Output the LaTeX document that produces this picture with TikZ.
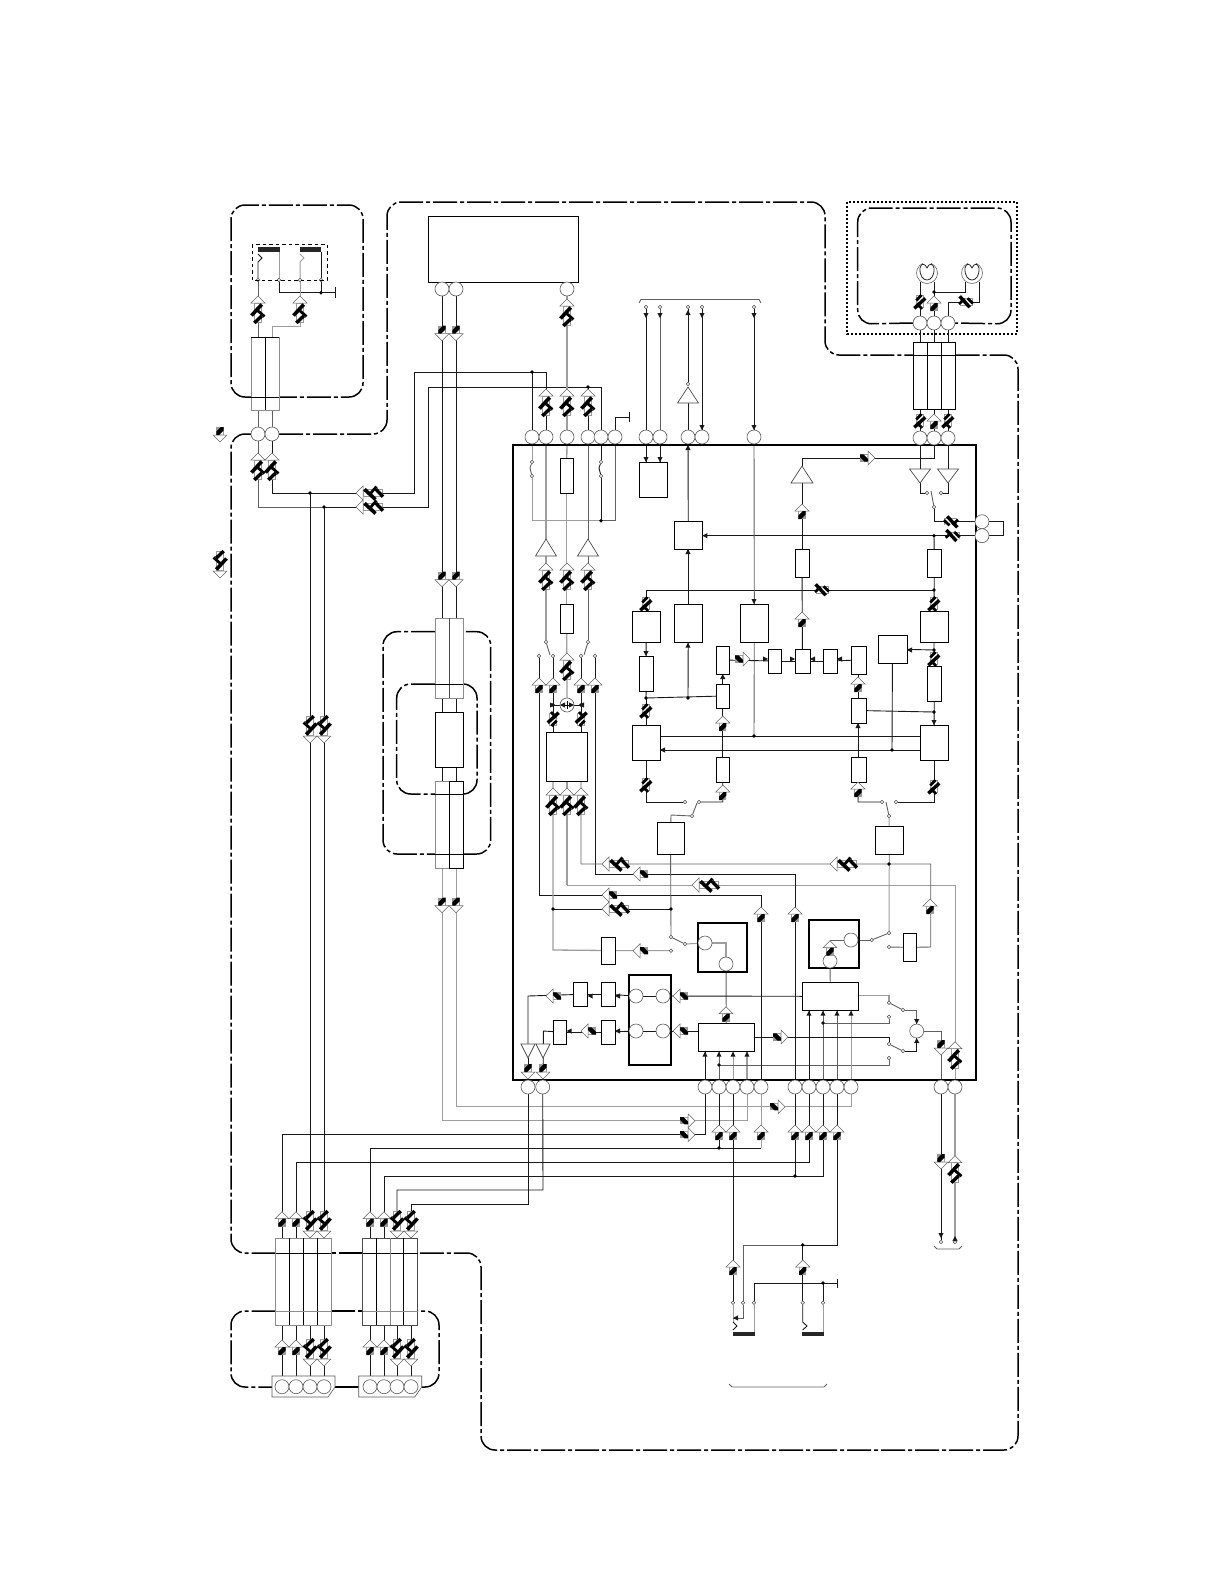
\documentclass[tikz,border=0pt]{standalone}
\usetikzlibrary{backgrounds}
\tikzset{
 ln/.style={black!90,line width=.9pt},
 gl/.style={black!38,line width=1.3pt},
 mg/.style={black!62,line width=.9pt},
 bxs/.style={draw=black,line width=.8pt,fill=white,inner sep=0,outer sep=0,rectangle},
 bks/.style={draw=none,fill=black!85,inner sep=0,outer sep=0,rectangle},
 ths/.style={draw=black,line width=2pt,inner sep=0,outer sep=0,rectangle},
 bub/.style={circle,draw=black!65,line width=.6pt,fill=white,minimum size=14pt,inner sep=0,outer sep=0},
 smc/.style={circle,draw=black!70,line width=.5pt,fill=white,minimum size=3.6pt,inner sep=0,outer sep=0},
 ddot/.style={line width=1.5pt,black,dash pattern=on 24pt off 3pt on 4pt off 3pt,rounded corners=14pt},
 cng/.style={draw=black!45,line width=.8pt},
 cnk/.style={draw=black,line width=.8pt},
 mkone/.pic={
  \draw[black!60,fill=white,line width=.5pt] (0,0)--(-7,7)--(7,7)--cycle;
  \fill[black!40] (-3.7,7) rectangle (3.7,15);
  \fill[white] (-2.9,7.7)--(1,7.7)--(-2.9,11.8)--cycle;
  \fill[black] (-3.7,15)--(-3.7,11.5)--(.8,7)--(3.7,7)--(3.7,10.5)--(-.8,15)--cycle;
 },
 mktwo/.pic={
  \draw[black!60,fill=white,line width=.5pt] (0,0)--(-7,7)--(7,7)--cycle;
  \fill[black!40] (-3.7,7) rectangle (3.7,27);
  \fill[white] (-2.9,7.7) rectangle (2.9,26.3);
  \draw[black,line width=3.6pt] (-6.5,19.5)--(3.7,8.5);
  \draw[black,line width=2.8pt] (-1,14)--(6.5,20.5);
  \draw[black,line width=3.4pt] (-3.7,27)--(3.7,20);
 },
 mkthree/.pic={
  \fill[black!40] (-3.7,1) rectangle (3.7,14);
  \fill[white] (-2.9,1.7) rectangle (2.9,13.3);
  \draw[black,line width=3.4pt] (5.7,.7)--(-5.3,10.7);
  \draw[black,line width=2.6pt] (3,5.7)--(-2,0);
  \draw[black,line width=2.8pt] (3.7,8.5)--(-1.5,14);
 },
 ahd/.pic={\fill[black!90] (0,0)--(-2.6,5)--(2.6,5)--cycle;},
}
\newcommand\bx[5]{\pgfmathsetmacro\cxx{(#2+#4)/2}\pgfmathsetmacro\cyy{(#3+#5)/2}\pgfmathsetmacro\ww{#4-#2}\pgfmathsetmacro\hh{#5-#3}\node[bxs,minimum width=\ww pt,minimum height=\hh pt] (#1) at (\cxx,\cyy) {};}
\newcommand\bk[5]{\pgfmathsetmacro\cxx{(#2+#4)/2}\pgfmathsetmacro\cyy{(#3+#5)/2}\pgfmathsetmacro\ww{#4-#2}\pgfmathsetmacro\hh{#5-#3}\node[bks,minimum width=\ww pt,minimum height=\hh pt] (#1) at (\cxx,\cyy) {};}
\newcommand\tk[5]{\pgfmathsetmacro\cxx{(#2+#4)/2}\pgfmathsetmacro\cyy{(#3+#5)/2}\pgfmathsetmacro\ww{#4-#2}\pgfmathsetmacro\hh{#5-#3}\node[ths,minimum width=\ww pt,minimum height=\hh pt] (#1) at (\cxx,\cyy) {};}
\newcommand\bb[3]{\node[bub] (#1) at (#2,#3) {};}
\newcommand\sm[3]{\node[smc] (#1) at (#2,#3) {};}
\newcommand\dt[3]{\coordinate (#1) at (#2,#3); \fill[black] (#2,#3) circle (1.9pt);}
\newcommand\mka[3]{\pic[rotate=#3] at (#1,#2) {mkone};}
\newcommand\mkb[3]{\pic[rotate=#3] at (#1,#2) {mktwo};}
\newcommand\mkc[3]{\pic[rotate=#3] at (#1,#2) {mkthree};}
\newcommand\ah[3]{\pic[rotate=#3] at (#1,#2) {ahd};}
\newcommand\tru[4]{\draw[black!70,fill=white,line width=.7pt] (#1,#2)--(#1-#4,#3)--(#1+#4,#3)--cycle;}
\begin{document}
\begin{tikzpicture}[x=1pt,y=-1pt]
\useasboundingbox (0,0) rectangle (1225,1585);
% ---------- boxes
\tk{ic}{513}{445}{976}{1080}
\tk{in1}{698}{922.7}{747}{972}
\tk{in2}{628.7}{974.7}{671}{1065}
\tk{in3}{809}{920}{858.7}{968}
\bx{big}{428}{216}{578}{282}
\bx{rA}{560}{458}{573.3}{493}
\bx{rB}{560}{604}{573.3}{633}
\bx{add}{546.3}{732}{587.7}{781}
\bx{dsp}{639}{462}{667.3}{497}
\bx{sel}{674.3}{521}{702.3}{549}
\bx{xa}{674.3}{604}{702.3}{642.7}
\bx{xb}{740}{604}{768.7}{642.7}
\bx{lT}{632}{611}{660}{642}
\bx{lR}{639}{656}{653.7}{691}
\bx{lB}{632}{725}{660}{760}
\bx{pa}{716}{646}{729.6}{674}
\bx{pb}{716}{684}{729.6}{708}
\bx{pc}{716}{757}{729.6}{782}
\bx{qa}{768}{649}{781.7}{673}
\bx{qb}{795}{649}{810}{673}
\bx{qc}{823}{649}{837}{673}
\bx{sa}{851}{646}{866}{674}
\bx{sb}{851}{698}{866}{723}
\bx{sc}{851}{757}{866}{782}
\bx{rT}{920}{611}{948}{642}
\bx{rR}{927}{666}{941.7}{701.5}
\bx{rD}{920}{725}{948}{760}
\bx{ctl}{878}{635}{907}{663}
\bx{aa}{795}{549}{809}{577}
\bx{ab}{927}{549}{941.7}{577}
\bx{swL}{657}{822}{684}{854}
\bx{swR}{875}{826}{903.7}{854}
\bx{gra}{601}{937}{615}{964}
\bx{grb}{903}{933}{916.7}{961.7}
\bx{dra}{573}{982}{587.7}{1006.7}
\bx{drb}{601}{982}{615}{1006.7}
\bx{drc}{553}{1020}{566.7}{1044}
\bx{drd}{601}{1020}{615}{1044}
\bx{ctlL}{698}{1023}{754.7}{1051.7}
\bx{ctlR}{802}{982}{858.7}{1010.7}
\bx{mid}{435}{712}{463.7}{767}
\bk{barA}{258}{247}{280}{252}
\bk{barB}{300}{247}{321}{252}
\bk{barC}{733}{1332}{755}{1336}
\bk{barD}{802}{1332}{824}{1336}
% ---------- bubbles
\bb{c258}{258}{434}\bb{c272}{272}{434}
\bb{t442}{442}{289}\bb{t456}{456}{289}\bb{t567}{567}{289}
\bb{r532}{532}{437}\bb{r546}{546}{437}\bb{r567}{567}{437}\bb{r588}{588}{437}\bb{r601}{601}{437}\bb{r615}{615}{437}
\bb{r646}{646}{437}\bb{r660}{660}{437}\bb{r688}{688}{437}\bb{r702}{702}{437}\bb{r754}{754}{437}
\bb{r920}{920}{438}\bb{r934}{934}{438}\bb{r948}{948}{438}
\bb{u920}{920}{323}\bb{u934}{934}{323}\bb{u948}{948}{323}
\bb{sidea}{982}{521.7}\bb{sideb}{982}{535.7}
\bb{q528}{528}{1087}\bb{q543}{542.7}{1087}
\bb{q705}{705}{1087}\bb{q719}{719}{1087}\bb{q733}{733}{1087}\bb{q747}{747}{1087}\bb{q761}{761}{1087}
\bb{q795}{795}{1087}\bb{q809}{809}{1087}\bb{q823}{823}{1087}\bb{q837}{837}{1087}\bb{q851}{851}{1087}
\bb{q941}{941}{1087}\bb{q955}{955}{1087}
\bb{ia}{705}{943}\bb{ib}{726}{964}
\bb{ka}{636}{996}\bb{kb}{663}{996}\bb{kc}{636}{1031}\bb{kd}{663}{1031}
\bb{ma}{851}{940}\bb{mb}{830}{961}
\node[bub] (plus) at (567,705) {};
\bb{summ}{916.7}{1031}
% ---------- small circles
\sm{za}{258}{280}\sm{zb}{279}{280}\sm{zc}{300}{280}\sm{zd}{321}{280}
\sm{ta}{646}{307}\sm{tb}{660}{307}\sm{tc}{688}{307}\sm{td}{702}{307}\sm{te}{754}{307}
\sm{tf}{688}{384}
\sm{swa}{532}{462}\sm{swb}{532}{476}\sm{swc}{601}{462}\sm{swd}{601}{476}
\sm{sa1}{546}{642}\sm{sa2}{539}{656}\sm{sa3}{553}{656}\sm{sa4}{581}{656}\sm{sa5}{588}{642}\sm{sa6}{595}{656}
\sm{sb1}{685}{802}\sm{sb2}{699}{802}\sm{sb3}{692}{816}
\sm{sc1}{882}{802}\sm{sc2}{896}{802}\sm{sc3}{889}{816}
\sm{sd1}{671}{937}\sm{sd2}{671}{950.7}\sm{sd3}{685}{944}
\sm{se1}{889}{933}\sm{se2}{889}{947}\sm{se3}{871.7}{940}
\sm{sf1}{889}{1002.7}\sm{sf2}{889}{1016.7}\sm{sf3}{903}{1010}
\sm{sg1}{889}{1044}\sm{sg2}{889}{1058}\sm{sg3}{903}{1051}
\sm{sh1}{927}{493}\sm{sh2}{941}{493}\sm{sh3}{934}{507}
\sm{en1}{941}{1242}\sm{en2}{955}{1242}
\sm{w1}{733}{1302.7}\sm{w2}{743}{1302.7}\sm{w3}{754}{1302.7}\sm{w4}{802.7}{1302.7}\sm{w5}{823}{1302.7}
% ---------- connectors, under the nodes
\begin{pgfonlayer}{background}
\fill[white] (0,0) rectangle (1225,1585);
% region outlines
\draw[ddot] (279,434) -- (387,434) -- (387,202) -- (825,202) -- (825,355) -- (913,355);
\draw[ddot] (955.7,355) -- (1018,355) -- (1018,1450) -- (481,1450) -- (481,1253) -- (417.7,1253);
\draw[ddot] (362.7,1253) -- (331.3,1253);
\draw[ddot] (275.7,1253) -- (231,1253) -- (231,434) -- (251,434);
\draw[ddot] (251.3,397) -- (231,397) -- (231,205) -- (363,205) -- (363,397) -- (279.3,397);
\draw[ddot] (913,323) -- (857.7,324) -- (857.7,208) -- (1011,208) -- (1011,324) -- (955,323);
\draw[line width=1.5pt,dash pattern=on 2pt off 2pt] (847,202) rectangle (1017,334);
\draw[ddot] (435,631.7) -- (383,631.7) -- (383,854) -- (435,854);
\draw[ddot] (463.7,854) -- (490.7,854) -- (490.7,631.7) -- (463,631.7);
\draw[ddot] (435,684) -- (396.7,684) -- (396.7,794) -- (435,794);
\draw[ddot] (463.7,794) -- (477,794) -- (477,684) -- (463,684);
\draw[ddot] (275.7,1311) -- (231,1311) -- (231,1387) -- (272,1387);
\draw[ddot] (335,1387) -- (358.7,1387);
\draw[ddot] (421.7,1387) -- (439,1387) -- (439,1311) -- (417.7,1311);
\draw[ddot] (331.3,1311) -- (362.7,1311);
% lamp unit / head A
\draw[ln] (za) -- (258,262) -- (262,258) -- (258,254);
\draw[gl,line width=1pt] (zb) -- (279,252);
\draw[gl,line width=1pt] (zc) -- (300,262) -- (304,258) -- (300,254);
\draw[ln] (zd) -- (321,252);
\coordinate (gndA) at (335,292.7);
\draw[ln] (zb) |- (gndA);
\draw[ln] (335,287) -- (335,298);
\draw[ln] (zd) -- (321,292.7);
\draw[mg] (za) -- (258,337);
\draw[gl,line width=1pt] (zc) -- (300,326) -- (272,326) -- (272,337);
\draw[mg] (258,410) -- (c258);
\draw[mg] (272,410) -- (c272);
\draw[ln] (c272) |- (414,493) -- (414,372) -- (546,372) -- (r546);
\draw[mg] (c258) |- (324,507);
\draw[ln] (324,507) -- (428,507) -- (428,387) -- (601,387) -- (r601);
\draw[ln] (310,493) -- (310,1238);
\draw[ln] (324,507) -- (324,1238);
\draw[ln] (532,372) -- (r532);
\draw[ln] (588,387) -- (r588);
\draw[ln] (t442) -- (442,618);
\draw[ln] (t456) -- (456,618);
\draw[gl] (t567) -- (r567);
\draw[ln] (442,698) -- (442,712);
\draw[ln] (456,698) -- (456,712);
\draw[ln] (442,767) -- (442,781);
\draw[ln] (456,767) -- (456,781);
\draw[gl,line width=1pt] (442,868) -- (442,1120.7) -- (747,1120.7) -- (q747);
\draw[gl,line width=1pt] (456,868) -- (456,1106.7) -- (851,1106.7) -- (q851);
\draw[ln] (r615) -- (615,417) -- (629,417);
\draw[ln] (629,412) -- (629,422);
% top bus
\draw[mg] (639,303) -- (641,299.5) -- (759,299.5) -- (761,303);
\draw[ln] (ta) -- (r646);
\draw[mg] (tb) -- (r660);
\draw[ln] (tc) -- (tf);
\draw[ln] (688,403) -- (r688);
\draw[ln] (td) -- (r702);
\draw[ln] (te) -- (r754);
\draw[ln] (r646) -- (646,462);
\draw[ln] (r660) -- (660,462);
% left switches
\draw[gl,line width=1pt] (r532) -- (swa);
\draw[mg] (swa) -- (530,468) -- (swb);
\draw[gl,line width=1pt] (swb) -- (532,520.7) -- (601,520.7);
\draw[ln] (r601) -- (swc);
\draw[ln] (swc) -- (599,468) -- (swd);
\draw[ln] (swd) -- (601,520.7);
\draw[mg] (r615) -- (615,520.7) -- (601,520.7);
\draw[gl] (r546) -- (sa1);
\draw[gl] (r567) -- (rA);
\draw[gl] (rA) -- (rB);
\draw[mg] (r588) -- (sa5);
\draw[mg] (sa1) -- (550,655);
\draw[mg] (sa5) -- (584,655);
\draw[gl] (rB) -- (plus);
\draw[ln] (sa2) -- (539,895) -- (761,895) -- (q761);
\draw[ln] (sa3) -- (553,732);
\draw[ln] (sa4) -- (581,732);
\draw[ln] (sa6) -- (595,874) -- (795,874) -- (q795);
\draw[ln] (553,705) -- (plus);
\draw[ln] (581,705) -- (plus);
\draw[gl] (553,781) -- (553,950) -- (gra);
\draw[gl] (567,781) -- (567,885);
\draw[gl,line width=1pt] (567,885) -- (955,885) -- (q955);
\draw[mg] (581,781) -- (581,864) -- (930.7,864) -- (930.7,947) -- (grb);
\draw[gl,line width=1pt] (gra) -- (sd2);
\draw[ln] (553,909) -- (671,909);
\draw[mg] (sd1) -- (swL);
\draw[gl,line width=1pt] (sd3) -- (ia);
\draw[mg] (sd1) -- (sd3);
\draw[gl] (ia) -- (726,943) -- (ib);
\draw[mg] (ib) -- (ctlL);
\draw[mg] (swL) -- (671,815) -- (sb3);
\draw[mg] (sb3) -- (697,803);
\draw[ln] (sb1) -- (646,802) -- (lB);
\draw[ln] (sb2) -- (722.7,802) -- (pc);
\draw[ln] (pc) -- (pb);
\draw[ln] (pb) -- (pa);
\draw[ln] (646,590) -- (934,590);
\draw[ln] (646,590) -- (646,611);
\draw[ln] (lT) -- (lR);
\draw[ln] (lR) -- (646,698);
\draw[ln] (646,698) -- (pb);
\draw[ln] (646,698) -- (lB);
\draw[ln] (688,698) -- (xa);
\draw[ln] (xa) -- (sel);
\draw[ln] (sel) -- (r688);
\draw[ln] (934,535.7) -- (sel.east |- 934,535.7);
\draw[ln] (934,535.7) -- (sideb);
\draw[ln] (934,507) -- (934,521.7) -- (sidea);
\draw[ln] (sidea) -- (1003,521.7) -- (1003,535.7) -- (sideb);
\draw[mg] (r754) -- (xb);
\draw[mg] (xb) -- (754,736);
\draw[ln] (lB.east |- 754,736) -- (rD.west |- 754,736);
\draw[ln] (lB.east |- 892,750) -- (rD.west |- 892,750);
\draw[ln] (ctl) -- (892,750);
\draw[ln] (rT) -- (934,650) -- (rR);
\draw[ln] (934,650) -- (ctl);
\draw[ln] (rR) -- (rD);
\draw[ln] (934,712) -- (sb);
\draw[ln] (sb) -- (sa);
\draw[ln] (sb) -- (sc);
\draw[ln] (pa) -- (qa);
\draw[ln] (qa) -- (qb);
\draw[ln] (qc) -- (qb);
\draw[ln] (sa) -- (qc);
\draw[ln] (qb) -- (aa);
\draw[ln] (aa) -- (802,483);
\draw[ln] (802,466) -- (802,458) -- (934,458) -- (r934);
\draw[ln] (ab) -- (rT);
\draw[ln] (934,535.7) -- (ab);
\draw[ln] (r920) -- (920,469);
\draw[ln] (r948) -- (948,469);
\draw[ln] (920,483) -- (920,493) -- (sh1);
\draw[ln] (948,483) -- (948,493) -- (sh2);
\draw[mg] (sh3) -- (931,491);
\draw[ln] (sh3) -- (934,521.7);
\draw[ln] (sc) -- (858,802) -- (sc1);
\draw[ln] (sc2) -- (934,802) -- (rD);
\draw[mg] (sc3) -- (886,802);
\draw[gl,line width=1pt] (sc3) -- (swR);
\draw[gl,line width=1pt] (swR) -- (se1);
\draw[mg] (se3) -- (se1);
\draw[mg] (se3) -- (ma);
\draw[mg] (se2) -- (grb);
\draw[mg] (ma) -- (830,940) -- (mb);
\draw[mg] (mb) -- (ctlR);
% drivers
\draw[ln] (ctlR) -- (kb);
\draw[ln] (kb) -- (ka);
\draw[ln] (ka) -- (drb);
\draw[ln] (drb) -- (dra);
\draw[ln] (dra) -- (528,996) -- (528,1044);
\draw[ln] (ctlL.west |- kd) -- (kd);
\draw[ln] (kd) -- (kc);
\draw[ln] (kc) -- (drd);
\draw[ln] (drd) -- (drc);
\draw[ln] (drc) -- (543.3,1031) -- (543.3,1044);
\draw[ln] (528,1058) -- (q528);
\draw[ln] (543.3,1058) -- (q543);
\draw[ln] (q528) -- (528,1204) -- (411,1204) -- (411,1238);
\draw[ln] (q543) -- (543,1190) -- (397,1190) -- (397,1238);
\draw[ln] (q705) -- (705,1134.7) -- (282,1134.7) -- (282,1238);
\draw[mg] (q719) -- (ctlL.south -| q719);
\draw[ln] (q705) -- (ctlL.south -| q705);
\draw[gl,line width=1pt] (q733) -- (ctlL.south -| q733);
\draw[gl] (q747) -- (ctlL.south -| q747);
\draw[mg] (719,1065) -- (889,1065) -- (sg2);
\draw[ln] (q761) -- (761,895);
\draw[ln] (q795) -- (795,874);
\draw[ln] (q809) -- (ctlR.south -| q809);
\draw[mg] (q823) -- (ctlR.south -| q823);
\draw[mg] (q837) -- (ctlR.south -| q837);
\draw[gl,line width=1pt] (q851) -- (ctlR.south -| q851);
\draw[mg] (823,1023) -- (889,1023) -- (sf2);
\draw[gl] (ctlR.east |- 889,995.7) -- (889,995.7) -- (sf1);
\draw[mg] (sf1) -- (sf3);
\draw[mg] (sf3) -- (916.7,1010) -- (summ);
\draw[ln] (ctlL.east |- 889,1037) -- (889,1037) -- (sg1);
\draw[mg] (sg1) -- (sg3);
\draw[ln] (sg3) -- (916.7,1051) -- (summ);
\draw[mg] (summ) -- (941,1031) -- (q941);
\draw[ln] (q941) -- (en1);
\draw[gl] (q955) -- (en2);
\draw[mg] (934,1246) -- (937,1249) -- (959,1249) -- (962,1246);
% bottom lines
\draw[ln] (q719) -- (719,1148);
\draw[ln] (370,1238) -- (370,1148) -- (761,1148);
\draw[gl,line width=1pt] (761,1148) -- (q761);
\draw[ln] (q733) -- (w1);
\draw[gl,line width=1pt] (w1) -- (733,1322);
\draw[ln] (733,1322) -- (737,1326) -- (733,1330);
\draw[ln] (q809) -- (809,1162) -- (296,1162) -- (296,1238);
\draw[ln] (q823) -- (823,1176) -- (384,1176) -- (384,1238);
\draw[ln] (q795) -- (795,1176);
\draw[ln] (q837) -- (837,1245) -- (802.7,1245);
\draw[mg] (802.7,1245) -- (743,1245) -- (w2);
\draw[mg] (w2) -- (743,1318) -- (733,1318);
\draw[ln] (802.7,1245) -- (w4);
\draw[ln] (w4) -- (802.7,1322) -- (807,1326) -- (802.7,1330);
\draw[ln] (w3) -- (754,1283) -- (837,1283);
\draw[ln] (837,1279) -- (837,1288);
\draw[ln] (823,1283) -- (w5);
\draw[gl,line width=1pt] (w3) -- (754,1332);
\draw[gl,line width=1pt] (w5) -- (823,1332);
\draw[mg] (729,1384) -- (732,1387) -- (824,1387) -- (827,1384);
% lamps
\foreach \xx/\nn in {920/r920,934/r934,948/r948}{\draw[ln] (\xx,409) -- (\nn);}
\foreach \xx/\nn in {920/u920,934/u934,948/u948}{\draw[ln] (\xx,342) -- (\nn);}
\draw[ln] (920,282) -- (u920);
\draw[ln] (934,282) -- (u934);
\draw[ln] (934,292) -- (965.7,292) -- (965.7,282);
\draw[ln] (979,282) -- (979,302) -- (948,302) -- (u948);
% bottom connector stubs
\foreach \xx in {282,296,310,324,370,384,397,411}{\draw[ln] (\xx,1325) -- (\xx,1386);}
\end{pgfonlayer}
% lower connector bubbles, over their stubs
\draw[black!65,line width=.6pt,fill=white] (272,1376)--(335,1376)--(335,1387)--(328,1397)--(272,1397)--cycle;
\draw[black!65,line width=.6pt,fill=white] (358.7,1376)--(421.7,1376)--(421.7,1387)--(414.7,1397)--(358.7,1397)--cycle;
\bb{ja}{282}{1386.7}\bb{jb}{296}{1386.7}\bb{jc}{310}{1386.7}\bb{jd}{324}{1386.7}
\bb{je}{370}{1386.7}\bb{jf}{384}{1386.7}\bb{jg}{397}{1386.7}\bb{jh}{411}{1386.7}
% plus sign
\draw[line width=.6pt] (563,705)--(571,705) (567,701)--(567,709);
% connector blocks
\draw[cng] (251.3,337) rectangle (279.3,410);
\draw[cnk] (265,337)--(265,410) (251.3,397)--(279.3,397) (251.3,337)--(279.3,337);
\draw[cnk] (913,342) rectangle (955.7,409) (927,342)--(927,409) (941.5,342)--(941.5,409) (913,355)--(955.7,355);
\draw[cng] (435,618) rectangle (463,698);
\draw[black!70,line width=.8pt] (449,618)--(449,698);
\draw[cnk] (435,684)--(463,684);
\draw[cng] (435,781) rectangle (449,868);
\draw[cnk] (449,781) rectangle (463.7,868);
\draw[cnk] (435,794)--(463.7,794) (435,854)--(463.7,854);
\draw[cng] (275.7,1238) rectangle (331.3,1325.3);
\draw[cnk] (289.3,1238)--(289.3,1325.3) (303,1238)--(303,1325.3) (317,1238)--(317,1325.3) (275.7,1253)--(331.3,1253);
\draw[black!45,line width=.6pt] (275.7,1311)--(331.3,1311);
\draw[black!70,line width=.8pt] (362.7,1238) rectangle (417.7,1325.3);
\draw[cnk] (376,1238)--(376,1325.3) (403.7,1238)--(403.7,1325.3) (362.7,1253)--(417.7,1253);
\draw[cng] (390,1238)--(390,1325.3);
\draw[black!45,line width=.6pt] (362.7,1311)--(417.7,1311);
% head A dashed outline
\draw[line width=.8pt,dash pattern=on 3.5pt off 3pt] (252,244) rectangle (327,280);
% triangles
\tru{688}{387}{403}{10.5}
\tru{546}{539}{556}{10.5}
\tru{588}{539}{556}{10.5}
\tru{802}{466}{483}{11}
\draw[black!70,fill=white,line width=.7pt] (909.5,469)--(930.5,469)--(920,483)--cycle;
\draw[black!70,fill=white,line width=.7pt] (937.5,469)--(958.5,469)--(948,483)--cycle;
\draw[black!70,fill=white,line width=.7pt] (521,1044)--(535,1044)--(528,1058)--cycle;
\draw[black!70,fill=white,line width=.7pt] (536,1044)--(550,1044)--(543,1058)--cycle;
% lamps
\foreach \cx in {927,972}{
 \draw[black!60,line width=.6pt] (\cx,273) circle (10.5pt);
 \draw[white,line width=2.5pt] (\cx-4,262.5)--(\cx+4,262.5);
 \draw[black!85,line width=.8pt,fill=white] (\cx-7,268) .. controls (\cx-8,284) and (\cx+8,284) .. (\cx+7,268) .. controls (\cx+6,263) and (\cx+2,263) .. (\cx,268) .. controls (\cx-2,263) and (\cx-6,263) .. (\cx-7,268);
}
% dots
\dt{d1}{321}{292.7}\dt{d2}{310}{493}\dt{d3}{324}{507}\dt{d4}{532}{372}\dt{d5}{588}{387}\dt{d6}{601}{520.7}
\dt{d7}{553}{705}\dt{d8}{581}{705}\dt{d9}{646}{698}\dt{d10}{688}{698}\dt{d11}{754}{736}\dt{d12}{892}{750}
\dt{d13}{934}{590}\dt{d14}{934}{535.7}\dt{d15}{934}{650}\dt{d16}{934}{712}\dt{d17}{553}{909}\dt{d18}{671}{909}
\dt{d19}{889}{864}\dt{d20}{719}{1065}\dt{d21}{823}{1023}\dt{d22}{719}{1148}\dt{d23}{795}{1176}\dt{d24}{802.7}{1245}
\dt{d25}{823}{1283}\dt{d26}{934}{292}
% arrowheads
\ah{646}{318}{180}\ah{660}{318}{180}\ah{688}{310}{0}\ah{702}{318}{180}\ah{754}{318}{180}
\ah{702}{430}{180}\ah{754}{430}{180}
\ah{646}{462}{180}\ah{660}{462}{180}\ah{688}{445}{0}
\ah{688}{549}{0}\ah{688}{642.7}{0}\ah{702.3}{535.7}{90}\ah{754}{604}{180}
\ah{646}{656}{180}\ah{722.7}{674}{0}\ah{768}{659}{-90}\ah{795}{659}{-90}\ah{810}{659}{90}\ah{837}{659}{90}
\ah{907}{650}{90}\ah{934}{725}{180}\ah{858}{723}{0}\ah{660}{750}{90}
\ah{555}{705}{-90}\ah{579}{705}{90}\ah{560}{705}{90}\ah{574}{705}{-90}
\ah{615}{996}{90}\ah{587.7}{996}{90}\ah{566.7}{1031}{90}\ah{615}{1031}{90}
\ah{705}{1051.7}{0}\ah{719}{1051.7}{0}\ah{733}{1051.7}{0}\ah{747}{1051.7}{0}
\ah{809}{1010.7}{0}\ah{823}{1010.7}{0}\ah{837}{1010.7}{0}\ah{851}{1010.7}{0}
\ah{916.7}{1024}{180}\ah{916.7}{1038}{0}
\ah{941}{1238}{180}\ah{955}{1236}{0}\ah{733}{1318}{90}
% single markers
\mka{442}{340.7}{180}\mka{456}{340.7}{180}
\mka{442}{586.7}{180}\mka{456}{586.7}{180}
\mka{442}{912.7}{180}\mka{456}{912.7}{180}
\mka{539}{678}{0}\mka{553}{678}{0}\mka{581}{678}{0}\mka{595}{678}{0}
\mka{722.7}{716}{0}\mka{722.7}{785}{0}\mka{858}{677}{0}\mka{858}{782}{0}
\mka{750}{659}{-90}\mka{802}{612}{0}\mka{802}{504}{0}\mka{875}{458}{-90}
\mka{934}{414}{0}\mka{934}{296}{0}
\mka{633}{874}{90}\mka{602}{895}{90}\mka{761}{907}{0}\mka{795}{907}{0}\mka{930}{899}{0}
\mka{633}{950.7}{90}\mka{726}{1006.7}{0}\mka{830}{940.7}{0}
\mka{546}{996}{90}\mka{581}{1031}{90}\mka{673}{996}{90}\mka{673}{1031}{90}
\mka{528}{1079}{180}\mka{543}{1079}{180}
\mka{788}{1037}{-90}\mka{941}{1055}{180}
\mka{695}{1120.7}{-90}\mka{695}{1134.7}{-90}\mka{785}{1106.7}{-90}
\mka{719}{1125}{0}\mka{733}{1125}{0}\mka{761}{1125}{0}
\mka{795}{1125}{0}\mka{809}{1125}{0}\mka{823}{1125}{0}\mka{837}{1125}{0}
\mka{941}{1169}{180}
\mka{733}{1260}{0}\mka{802.7}{1260}{0}
\mka{282}{1211.7}{0}\mka{296}{1211.7}{0}\mka{370}{1211.7}{0}\mka{384}{1211.7}{0}
\mka{282}{1340}{0}\mka{296}{1340}{0}\mka{370}{1340}{0}\mka{384}{1340}{0}
\mka{220}{442}{180}
% double markers
\mkb{258}{296}{0}\mkb{300}{296}{0}\mkb{258}{453}{0}\mkb{272}{453}{0}
\mkb{356}{493}{90}\mkb{356}{507}{90}
\mkb{567}{299}{0}\mkb{546}{389}{0}\mkb{567}{389}{0}\mkb{588}{389}{0}
\mkb{546}{563}{0}\mkb{567}{563}{0}\mkb{588}{563}{0}
\mkb{567}{653}{0}
\mkb{553}{788}{0}\mkb{567}{788}{0}\mkb{581}{788}{0}
\mkb{602}{864}{90}\mkb{830}{864}{90}\mkb{692}{885}{90}\mkb{602}{909}{90}
\mkb{955}{1041.7}{0}\mkb{955}{1155.7}{0}
\mkb{310}{743}{180}\mkb{324}{743}{180}
\mkb{310}{1238}{180}\mkb{324}{1238}{180}\mkb{397}{1238}{180}\mkb{411}{1238}{180}
\mkb{310}{1366}{180}\mkb{324}{1366}{180}\mkb{397}{1366}{180}\mkb{411}{1366}{180}
\mkb{220}{578}{180}
% short markers
\mkc{646}{611}{180}\mkc{646}{718}{180}\mkc{646}{792}{180}
\mkc{934}{611}{180}\mkc{934}{666}{180}\mkc{934}{794}{180}
\mkc{553}{712}{0}\mkc{581}{712}{0}
\mkc{920}{309}{180}\mkc{920}{428}{180}\mkc{948}{428}{180}\mkc{959}{302}{90}
\mkc{958}{521.7}{-90}\mkc{945.7}{535.7}{90}
\mkc{815}{590}{90}
\end{tikzpicture}
\end{document}
